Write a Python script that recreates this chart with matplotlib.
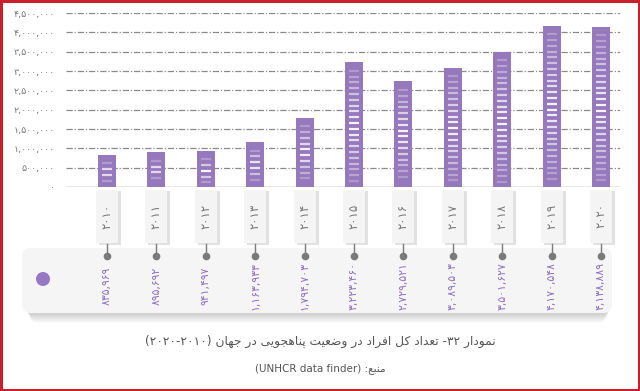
import numpy as np
import matplotlib
matplotlib.use("Agg")
import matplotlib.pyplot as plt
from matplotlib.patches import Rectangle, FancyBboxPatch, Ellipse
from matplotlib.transforms import blended_transform_factory

# ---------------- data ----------------
years = [2010, 2011, 2012, 2013, 2014, 2015, 2016, 2017, 2018, 2019, 2020]
values = [835969, 895692, 941497, 1163933, 1794703, 3223460,
          2729521, 3089503, 3501627, 4170548, 4138889]
yticks = [0, 500000, 1000000, 1500000, 2000000, 2500000,
          3000000, 3500000, 4000000, 4500000]
title_main = "تعداد کل افراد در وضعیت پناهجویی در جهان"
title_head = "نمودار"
title_num = "-۳۲"
title_range = "(۲۰۲۰-۲۰۱۰)"
source_word = "منبع"
source_text = "(UNHCR data finder)"

# ---------------- helpers ----------------
PD = str.maketrans("0123456789", "۰۱۲۳۴۵۶۷۸۹")


def fa(n, comma=True):
    s = f"{n:,}" if comma else str(n)
    return s.translate(PD)


FORMS = {
    'ا': ('\uFE8D', '\uFE8E', None, None),
    'ب': ('\uFE8F', '\uFE90', '\uFE91', '\uFE92'),
    'پ': ('\uFB56', '\uFB57', '\uFB58', '\uFB59'),
    'ت': ('\uFE95', '\uFE96', '\uFE97', '\uFE98'),
    'ج': ('\uFE9D', '\uFE9E', '\uFE9F', '\uFEA0'),
    'د': ('\uFEA9', '\uFEAA', None, None),
    'ر': ('\uFEAD', '\uFEAE', None, None),
    'ض': ('\uFEBD', '\uFEBE', '\uFEBF', '\uFEC0'),
    'ع': ('\uFEC9', '\uFECA', '\uFECB', '\uFECC'),
    'ف': ('\uFED1', '\uFED2', '\uFED3', '\uFED4'),
    'ک': ('\uFB8E', '\uFB8F', '\uFB90', '\uFB91'),
    'ل': ('\uFEDD', '\uFEDE', '\uFEDF', '\uFEE0'),
    'م': ('\uFEE1', '\uFEE2', '\uFEE3', '\uFEE4'),
    'ن': ('\uFEE5', '\uFEE6', '\uFEE7', '\uFEE8'),
    'ه': ('\uFEE9', '\uFEEA', '\uFEEB', '\uFEEC'),
    'و': ('\uFEED', '\uFEEE', None, None),
    'ی': ('\uFBFC', '\uFBFD', '\uFBFE', '\uFBFF'),
}


def shape(text):
    out = []
    for i, c in enumerate(text):
        f = FORMS.get(c)
        if f is None:
            out.append(c)
            continue
        prev = text[i - 1] if i > 0 else None
        nxt = text[i + 1] if i + 1 < len(text) else None
        jp = prev in FORMS and FORMS[prev][2] is not None
        jn = nxt in FORMS and f[2] is not None
        if jp and jn:
            out.append(f[3])
        elif jp:
            out.append(f[1])
        elif jn:
            out.append(f[2])
        else:
            out.append(f[0])
    return ''.join(out)


def rtl(text):
    return shape(text)[::-1]


plt.rcParams['font.family'] = ['DejaVu Sans']

W, H = 640, 391
fig = plt.figure(figsize=(W / 100, H / 100), dpi=100)
fig.patch.set_facecolor('white')


def fy(py):
    return 1 - py / H


def fx(px):
    return px / W


# ---------------- background panel (own axes, lowest) ----------------
bg = fig.add_axes([0, 0, 1, 1], zorder=0)
bg.set_xlim(0, W)
bg.set_ylim(H, 0)
bg.axis('off')
for i in range(9):
    off = 1 + i
    bg.add_patch(FancyBboxPatch((26 + i * 0.5, 250 + off), 584 - i, 64,
                                boxstyle="round,pad=0,rounding_size=8",
                                facecolor='black', edgecolor='none', alpha=0.018))
bg.add_patch(FancyBboxPatch((22, 248), 590, 65,
                            boxstyle="round,pad=0,rounding_size=9",
                            facecolor='#f5f5f5', edgecolor='none'))
bg.add_patch(Ellipse((43, 279), 14, 14, facecolor='#9878c4', edgecolor='none'))

# ---------------- main axes ----------------
ax_l, ax_r, ax_t, ax_b = 66, 620, 13, 187
ax = fig.add_axes([fx(ax_l), fy(ax_b), (ax_r - ax_l) / W, (ax_b - ax_t) / H],
                  zorder=2)
x = np.arange(len(years))
unit = 49.4
ax.set_xlim(-(107 - ax_l) / unit, (len(years) - 1) + (ax_r - 601) / unit)
ax.set_ylim(0, 4500000)

bar_color = '#9678bc'
bw = 18 / unit
ax.bar(x, values, width=bw, color=bar_color, zorder=3)

# decorative dashes inside bars
step = 150000
for xi, v in zip(x, values):
    ys = np.arange(v - 220000, 120000, -step)
    n = len(ys)
    for k, yv in enumerate(ys):
        t = k / max(n - 1, 1)
        a = 0.25 + 0.7 * (1 - abs(2 * t - 1))
        ax.plot([xi - bw * 0.28, xi + bw * 0.28], [yv, yv], color='white',
                lw=1.6, alpha=a, solid_capstyle='butt', zorder=4)

for yt in yticks[1:]:
    ax.axhline(yt, color='#8a8a8a', lw=0.9, ls=(0, (5, 1.5, 1, 1.5)), zorder=1)
ax.axhline(0, color='#8a8a8a', lw=1.0, zorder=5)

ax.set_yticks(yticks)
ax.set_yticklabels([fa(v) for v in yticks], fontsize=6.8, color='#777777')
ax.tick_params(axis='y', length=0, pad=8)
ax.set_xticks([])
for s in ax.spines.values():
    s.set_visible(False)
ax.set_facecolor('none')

# ---------------- lower decorative area ----------------
tr = blended_transform_factory(ax.transData, fig.transFigure)

tw = 22 / unit
for xi, yr, v in zip(x, years, values):
    ax.add_patch(Rectangle((xi - tw / 2 + 3 / unit, fy(245)), tw, (245 - 191) / H,
                           transform=tr, facecolor='#dadada', edgecolor='none',
                           clip_on=False, zorder=2, alpha=0.8))
    ax.add_patch(Rectangle((xi - tw / 2, fy(243)), tw, (243 - 190) / H,
                           transform=tr, facecolor='#f4f4f4', edgecolor='none',
                           clip_on=False, zorder=3))
    ax.text(xi, fy(216), fa(yr, comma=False), rotation=90, ha='center',
            va='center', fontsize=8.5, color='#777777', transform=tr,
            zorder=4)
    ax.plot([xi, xi], [fy(244), fy(255)], color='#7a7a7a', lw=1.0,
            transform=tr, clip_on=False, zorder=4)
    ax.plot([xi], [fy(256)], marker='o', ms=4.5, color='#7a7a7a',
            transform=tr, clip_on=False, zorder=4)
    ax.text(xi, fy(286), fa(v), rotation=90, ha='center', va='center',
            fontsize=7.8, color='#8e6fc2', transform=tr, zorder=4)

# ---------------- titles ----------------
title_visual = title_range + " " + rtl(title_main) + " " + title_num + " " + rtl(title_head)
fig.text(0.5, fy(341), title_visual, ha='center', va='center', fontsize=8.8,
         color='#555555')
fig.text(0.5, fy(369), source_text + " :" + rtl(source_word), ha='center',
         va='center', fontsize=7.5, color='#555555')

# red frame
fig.patches.append(Rectangle((0.0015, 0.003), 0.997, 0.994,
                             transform=fig.transFigure, facecolor='none',
                             edgecolor='#c8202a', lw=2.2, zorder=10))

fig.savefig('out.png', dpi=100, facecolor='white')
